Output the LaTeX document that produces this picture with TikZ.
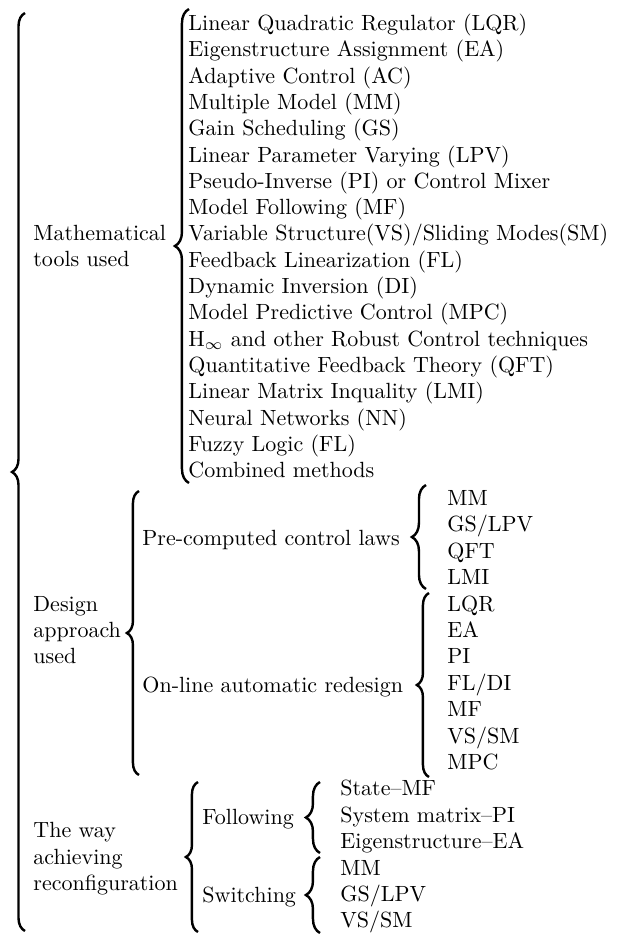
\documentclass[tikz,border=0pt]{standalone}
\usepackage{tikz}
\usetikzlibrary{decorations.pathreplacing}
\tikzset{leaf/.style={anchor=base west,inner sep=0pt},
         head/.style={anchor=west,align=left,inner sep=0pt},
         curly/.style={decorate,decoration={brace,amplitude=#1},line width=1.1pt},
         curly/.default=5.5pt
}

\begin{document}
\begin{tikzpicture}[x=0.4545pt,y=-0.4545pt]
\useasboundingbox (0,0) rectangle (620,934);
% group labels
\node[head] (math) at (33,246) {Mathematical\\tools used};
\node[head] (design) at (33,630) {Design\\approach\\used};
\node[head] (way) at (33,859) {The way\\achieving\\reconfiguration};
\node[leaf] (pre) at (142,545) {Pre-computed control laws};
\node[leaf] (online) at (142,692) {On-line automatic redesign};
\node[leaf] (follow) at (202,824) {Following};
\node[leaf] (switch) at (202,902) {Switching};
% mathematical tools
\node[leaf] (lqr) at (188,30.5) {Linear Quadratic Regulator (LQR)};
\node[leaf] (ea) at (188,56.8) {Eigenstructure Assignment (EA)};
\node[leaf] (ac) at (188,83.1) {Adaptive Control (AC)};
\node[leaf] (mm) at (188,109.4) {Multiple Model (MM)};
\node[leaf] (gs) at (188,135.7) {Gain Scheduling (GS)};
\node[leaf] (lpv) at (188,162.0) {Linear Parameter Varying (LPV)};
\node[leaf] (pi) at (188,188.3) {Pseudo-Inverse (PI) or Control Mixer};
\node[leaf] (mf) at (188,214.6) {Model Following (MF)};
\node[leaf] (vs) at (188,240.9) {Variable Structure(VS)/Sliding Modes(SM)};
\node[leaf] (fl) at (188,267.2) {Feedback Linearization (FL)};
\node[leaf] (di) at (188,293.5) {Dynamic Inversion (DI)};
\node[leaf] (mpc) at (188,319.8) {Model Predictive Control (MPC)};
\node[leaf] (hinf) at (188,346.1) {H$_\infty$ and other Robust Control techniques};
\node[leaf] (qft) at (188,372.4) {Quantitative Feedback Theory (QFT)};
\node[leaf] (lmi) at (188,398.7) {Linear Matrix Inquality (LMI)};
\node[leaf] (nn) at (188,425.0) {Neural Networks (NN)};
\node[leaf] (fuz) at (188,451.3) {Fuzzy Logic (FL)};
\node[leaf] (comb) at (188,477.6) {Combined methods};
% pre-computed
\node[leaf] (pre1) at (447,505.5) {MM};
\node[leaf] (pre2) at (447,531.9) {GS/LPV};
\node[leaf] (pre3) at (447,558.3) {QFT};
\node[leaf] (pre4) at (447,584.7) {LMI};
% on-line
\node[leaf] (on1) at (447,611.1) {LQR};
\node[leaf] (on2) at (447,637.5) {EA};
\node[leaf] (on3) at (447,663.9) {PI};
\node[leaf] (on4) at (447,690.3) {FL/DI};
\node[leaf] (on5) at (447,716.7) {MF};
\node[leaf] (on6) at (447,743.1) {VS/SM};
\node[leaf] (on7) at (447,769.5) {MPC};
% following / switching
\node[leaf] (fo1) at (340,795.9) {State--MF};
\node[leaf] (fo2) at (340,822.3) {System matrix--PI};
\node[leaf] (fo3) at (340,848.7) {Eigenstructure--EA};
\node[leaf] (sw1) at (340,875.1) {MM};
\node[leaf] (sw2) at (340,901.5) {GS/LPV};
\node[leaf] (sw3) at (340,927.9) {VS/SM};
% brace ends
\coordinate (all-t) at (25,13);
\coordinate (all-b) at (25,931);
\coordinate (math-t) at (189,9);
\coordinate (math-b) at (189,483);
\coordinate (des-t) at (139,491);
\coordinate (des-b) at (139,775);
\coordinate (pre-t) at (426,485);
\coordinate (pre-b) at (426,589);
\coordinate (on-t) at (429,593);
\coordinate (on-b) at (429,777);
\coordinate (way-t) at (198,782);
\coordinate (way-b) at (198,932);
\coordinate (fo-t) at (320,782);
\coordinate (fo-b) at (320,853);
\coordinate (sw-t) at (320,857);
\coordinate (sw-b) at (320,933);
\draw[curly=5.9pt] (all-b) -- (all-t);
\draw[curly=6.4pt] (math-b) -- (math-t);
\draw[curly] (des-b) -- (des-t);
\draw[curly=6.4pt] (pre-b) -- (pre-t);
\draw[curly] (on-b) -- (on-t);
\draw[curly] (way-b) -- (way-t);
\draw[curly=6.4pt] (fo-b) -- (fo-t);
\draw[curly=6.4pt] (sw-b) -- (sw-t);
\end{tikzpicture}
\end{document}
